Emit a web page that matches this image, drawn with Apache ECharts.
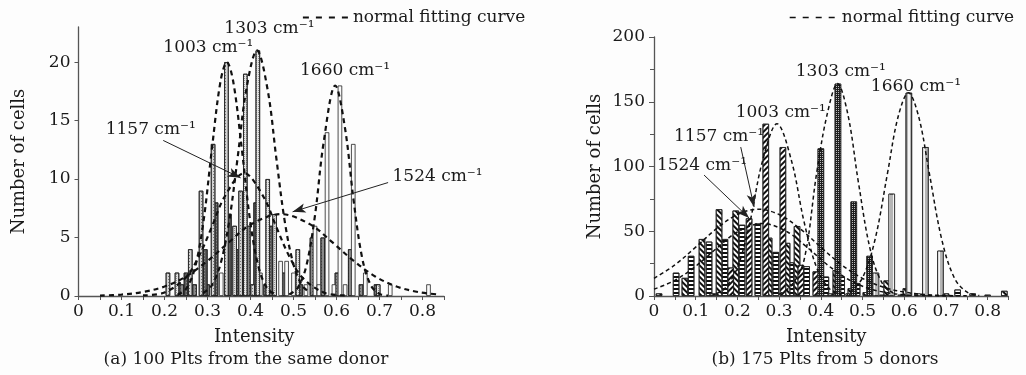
<!DOCTYPE html>
<html><head><meta charset="utf-8">
<script src="https://cdn.jsdelivr.net/npm/echarts@6/dist/echarts.min.js"></script>
<style>html,body{margin:0;padding:0;background:#fdfdfd}#c{width:1026px;height:375px}</style>
</head><body><div id="c"></div>
<script>
// ---------- DATA ----------
const bands = ['1003 cm⁻¹', '1157 cm⁻¹', '1303 cm⁻¹', '1524 cm⁻¹', '1660 cm⁻¹'];
const legendName = 'normal fitting curve';
const xTickLabels = ['0', '0.1', '0.2', '0.3', '0.4', '0.5', '0.6', '0.7', '0.8'];
const aYTicks = [0, 5, 10, 15, 20];
const bYTicks = [0, 50, 100, 150, 200];

// (a) 100 Plts from the same donor — histogram bars [intensity, count]
const a1003 = [[0.208,2],[0.26,4],[0.285,9],[0.313,13],[0.344,20],[0.377,9],[0.405,1]];
const a1157 = [[0.25,2],[0.295,4],[0.32,8],[0.351,7],[0.381,5],[0.412,8],[0.447,6],[0.477,2],[0.517,1]];
const a1303 = [[0.229,2],[0.363,6],[0.388,19],[0.417,21],[0.44,10],[0.456,7],[0.51,4],[0.697,1]];
const a1524 = [[0.24,1],[0.27,1],[0.30,1],[0.367,4],[0.395,6],[0.435,1],[0.543,5],[0.568,5],[0.601,2],[0.632,4],[0.657,1],[0.692,1]];
const a1660 = [[0.332,2],[0.423,2],[0.47,3],[0.484,3],[0.50,2],[0.529,1],[0.55,6],[0.559,1],[0.578,14],[0.594,1],[0.608,18],[0.62,1],[0.639,13],[0.667,2],[0.725,1],[0.814,1]];
// (a) normal fitting curves
const aFit1003 = [[0.23,0.1],[0.25,0.6],[0.27,2.3],[0.29,6.2],[0.31,12.5],[0.33,18.3],[0.345,20],[0.36,18.3],[0.38,12.5],[0.40,6.2],[0.42,2.3],[0.44,0.6],[0.46,0.1]];
const aFit1157 = [[0.15,0.05],[0.20,0.3],[0.25,1.6],[0.28,3.4],[0.31,5.9],[0.34,8.5],[0.385,10.5],[0.43,8.5],[0.46,5.9],[0.49,3.4],[0.52,1.6],[0.57,0.3],[0.62,0.05]];
const aFit1303 = [[0.29,0.25],[0.31,0.9],[0.33,2.7],[0.35,6.3],[0.37,11.8],[0.39,17.6],[0.415,21],[0.44,17.6],[0.46,11.8],[0.48,6.3],[0.50,2.7],[0.52,0.9],[0.54,0.25]];
const aFit1524 = [[0.05,0.04],[0.10,0.12],[0.15,0.34],[0.20,0.81],[0.25,1.67],[0.30,3.0],[0.35,4.6],[0.40,6.1],[0.47,7.0],[0.54,6.1],[0.59,4.6],[0.64,3.0],[0.69,1.67],[0.74,0.81],[0.79,0.34],[0.84,0.12]];
const aFit1660 = [[0.49,0.13],[0.51,0.7],[0.53,2.6],[0.55,6.9],[0.57,13.1],[0.597,18],[0.62,14.3],[0.64,8.1],[0.66,3.2],[0.68,0.9],[0.70,0.18],[0.72,0.03]];

// (b) 175 Plts from 5 donors — histogram bars [intensity, count]
const b1003 = [[0.141,2],[0.184,22],[0.228,60],[0.268,133],[0.309,115],[0.352,24],[0.388,19],[0.424,2]];
const b1157 = [[0.012,2],[0.074,14],[0.115,44],[0.156,67],[0.196,66],[0.276,45],[0.319,41],[0.343,54],[0.436,20],[0.472,6],[0.508,3],[0.558,12],[0.604,6],[0.70,2],[0.84,4]];
const b1303 = [[0.40,114],[0.441,164],[0.467,2],[0.479,73],[0.517,31],[0.548,1]];
const b1524 = [[0.053,18],[0.089,31],[0.132,42],[0.170,44],[0.211,55],[0.249,56],[0.292,34],[0.328,26],[0.366,23],[0.412,15],[0.45,15],[0.487,10],[0.728,5],[0.764,2]];
const b1660 = [[0.532,18],[0.57,79],[0.592,1],[0.611,157],[0.632,2],[0.651,115],[0.687,35],[0.80,1]];
// (b) normal fitting curves
const bFit1003 = [[0.15,2],[0.17,5.8],[0.20,21.9],[0.23,57],[0.26,104],[0.295,133],[0.33,104],[0.36,57],[0.39,21.9],[0.42,5.8],[0.45,1.1]];
const bFit1157 = [[0,13.6],[0.05,24],[0.10,37.7],[0.15,52],[0.20,62.9],[0.25,67],[0.30,62.9],[0.35,52],[0.40,37.7],[0.45,24],[0.50,13.6],[0.55,6.8],[0.60,3.0],[0.65,1.1],[0.70,0.4],[0.75,0.1]];
const bFit1303 = [[0.30,1.3],[0.33,8.3],[0.36,28],[0.39,95],[0.415,140],[0.44,164],[0.465,140],[0.49,88],[0.52,33.8],[0.55,8.3],[0.58,1.3]];
const bFit1524 = [[0,5.3],[0.05,12.1],[0.10,23],[0.15,36.8],[0.20,49.4],[0.26,56],[0.32,49.4],[0.37,36.8],[0.42,23],[0.47,12.1],[0.52,5.3],[0.57,2],[0.62,0.6],[0.67,0.15],[0.72,0.03]];
const bFit1660 = [[0.47,3.1],[0.50,14],[0.53,43.6],[0.56,95],[0.585,138],[0.61,157],[0.635,138],[0.66,95],[0.69,43.6],[0.72,14],[0.75,3.1],[0.78,0.3]];

// ---------- LAYOUT (annotation anchors in data units) ----------
const aLabelAt = [[0.302,21.2],[0.168,14.2],[0.444,22.9],[0.835,10.2],[0.62,19.3]];
const aArrows = [[[0.197,13.3],[0.377,10.1]], [[0.72,9.7],[0.498,7.2]]];
const bLabelAt = [[0.304,142],[0.156,123],[0.448,173],[0.115,101],[0.628,162]];
const bArrows = [[[0.208,115],[0.24,68.7]], [[0.12,93.4],[0.228,60.2]]];

const FONT = 'DejaVu Serif';
const TXT = '#1a1a1a';

function xfmt(v){ const r = Math.round(v*100); if (r % 10 !== 0) return ''; return xTickLabels[r/10] || ''; }

function bar(data, i, color, decal, w){
  return {type:'bar', xAxisIndex:i, yAxisIndex:i, data, barWidth:w, barGap:'-100%', silent:true, z:2,
    itemStyle:{color, borderColor:'#222', borderWidth:0.8, decal}};
}
function fit(data, i, lw, dash){
  return {type:'line', name:legendName, xAxisIndex:i, yAxisIndex:i, data, smooth:0.35, symbol:'none', silent:true, z:4,
    itemStyle:{color:'#111'}, lineStyle:{color:'#111', width:lw, type:dash}};
}
function annot(i, labelAt, arrows){
  return {type:'line', xAxisIndex:i, yAxisIndex:i, data:[], silent:true, z:6,
    markPoint:{symbol:'circle', symbolSize:1, silent:true, itemStyle:{color:'rgba(0,0,0,0)'},
      label:{show:true, position:'inside', formatter:'{b}', color:TXT, fontFamily:FONT, fontSize:17},
      data: bands.map((b,k)=>({name:b, coord:labelAt[k]}))},
    markLine:{silent:true, symbol:['none','arrow'], symbolSize:[7,13], label:{show:false},
      lineStyle:{type:'solid', color:'#222', width:1},
      data: arrows.map(a=>[{coord:a[0]},{coord:a[1]}])}};
}

const dots = (c, g) => ({symbol:'rect', symbolSize:1, dashArrayX:[1,g], dashArrayY:[1,g], color:c});
const lines = (rot, gap, c) => ({symbol:'rect', symbolSize:1, dashArrayX:[1,0], dashArrayY:[1.2,gap], rotation:rot, color:c});

const axisLine = {show:true, lineStyle:{color:'#555', width:1.3}};
const lab = {color:TXT, fontFamily:FONT, fontSize:17};
const nameStyle = {color:TXT, fontFamily:FONT, fontSize:18};
const legendCommon = {data:[legendName], top:4, itemHeight:14, itemGap:4, selectedMode:false,
  itemStyle:{color:'rgba(0,0,0,0)', borderWidth:0, opacity:0}, textStyle:{color:TXT, fontFamily:FONT, fontSize:17}};

const option = {
  animation:false,
  backgroundColor:'#fdfdfd',
  grid:[
    {left:78.5, top:27, width:365.5, height:269},
    {left:654, top:37, width:354.5, height:259}
  ],
  xAxis:[
    {gridIndex:0, type:'value', min:0, max:0.85, interval:0.05, axisLine, axisTick:{show:true, length:4, lineStyle:{color:'#555'}},
     axisLabel:Object.assign({formatter:xfmt, margin:7, hideOverlap:false}, lab), splitLine:{show:false},
     name:'Intensity', nameLocation:'middle', nameGap:32, nameTextStyle:Object.assign({padding:[0,14,0,0]}, nameStyle)},
    {gridIndex:1, type:'value', min:0, max:0.85, interval:0.05, axisLine, axisTick:{show:true, length:4, lineStyle:{color:'#555'}},
     axisLabel:Object.assign({formatter:xfmt, margin:7, hideOverlap:false}, lab), splitLine:{show:false},
     name:'Intensity', nameLocation:'middle', nameGap:32, nameTextStyle:Object.assign({padding:[0,10,0,0]}, nameStyle)}
  ],
  yAxis:[
    {gridIndex:0, type:'value', min:0, max:23, interval:5, axisLine, axisTick:{show:true, length:4, customValues:aYTicks, lineStyle:{color:'#555'}},
     axisLabel:Object.assign({margin:8, customValues:aYTicks}, lab), splitLine:{show:false},
     name:'Number of cells', nameLocation:'middle', nameGap:50, nameTextStyle:nameStyle},
    {gridIndex:1, type:'value', min:0, max:200, interval:50, axisLine, axisTick:{show:true, length:5, customValues:bYTicks, lineStyle:{color:'#555'}},
     minorTick:{show:true, splitNumber:2, length:4, lineStyle:{color:'#555'}},
     axisLabel:Object.assign({margin:9, customValues:bYTicks}, lab), splitLine:{show:false},
     name:'Number of cells', nameLocation:'middle', nameGap:50, nameTextStyle:nameStyle}
  ],
  legend:[
    Object.assign({left:297, itemWidth:45, lineStyle:{type:[6,7], width:1.8, color:'#111'}}, legendCommon),
    Object.assign({left:784, itemWidth:47, lineStyle:{type:[6,7], width:1.4, color:'#111'}}, legendCommon)
  ],
  graphic:[
    {type:'text', x:246, y:360, silent:true, style:{text:'(a) 100 Plts from the same donor', align:'center', verticalAlign:'middle', fill:TXT, font:'17px "DejaVu Serif"'}},
    {type:'text', x:825, y:360, silent:true, style:{text:'(b) 175 Plts from 5 donors', align:'center', verticalAlign:'middle', fill:TXT, font:'17px "DejaVu Serif"'}}
  ],
  series:[
    // panel (a) bars
    bar(a1524, 0, '#8a8a8a', dots('rgba(0,0,0,0.35)',2), 4.5),
    bar(a1157, 0, '#5c5c5c', dots('rgba(255,255,255,0.25)',2), 4.5),
    bar(a1660, 0, '#fafafa', null, 4.5),
    bar(a1003, 0, '#d4d4d4', dots('rgba(0,0,0,0.45)',1.5), 4.5),
    bar(a1303, 0, '#e4e4e4', dots('rgba(0,0,0,0.35)',1), 4.5),
    // panel (a) curves
    fit(aFit1003, 0, 2.2, [5,4]), fit(aFit1157, 0, 2.2, [5,4]), fit(aFit1303, 0, 2.2, [5,4]),
    fit(aFit1524, 0, 2.2, [5,4]), fit(aFit1660, 0, 2.2, [5,4]),
    annot(0, aLabelAt, aArrows),
    // panel (b) bars
    bar(b1524, 1, '#ffffff', lines(0, 1.8, '#111'), 6.5),
    bar(b1157, 1, '#ffffff', lines(Math.PI/4, 2, '#111'), 6.5),
    bar(b1003, 1, '#ffffff', lines(-Math.PI/4, 1.6, '#111'), 6.5),
    bar(b1660, 1, '#b5b5b5', lines(Math.PI/2, 3, '#f4f4f4'), 6.5),
    bar(b1303, 1, '#1e1e1e', dots('rgba(255,255,255,0.7)',1), 6.5),
    // panel (b) curves
    fit(bFit1003, 1, 1.5, [4,3]), fit(bFit1157, 1, 1.5, [4,3]), fit(bFit1303, 1, 1.5, [4,3]),
    fit(bFit1524, 1, 1.5, [4,3]), fit(bFit1660, 1, 1.5, [4,3]),
    annot(1, bLabelAt, bArrows)
  ]
};
const chart = echarts.init(document.getElementById('c'), null, {renderer:'canvas'});
chart.setOption(option);
</script></body></html>
